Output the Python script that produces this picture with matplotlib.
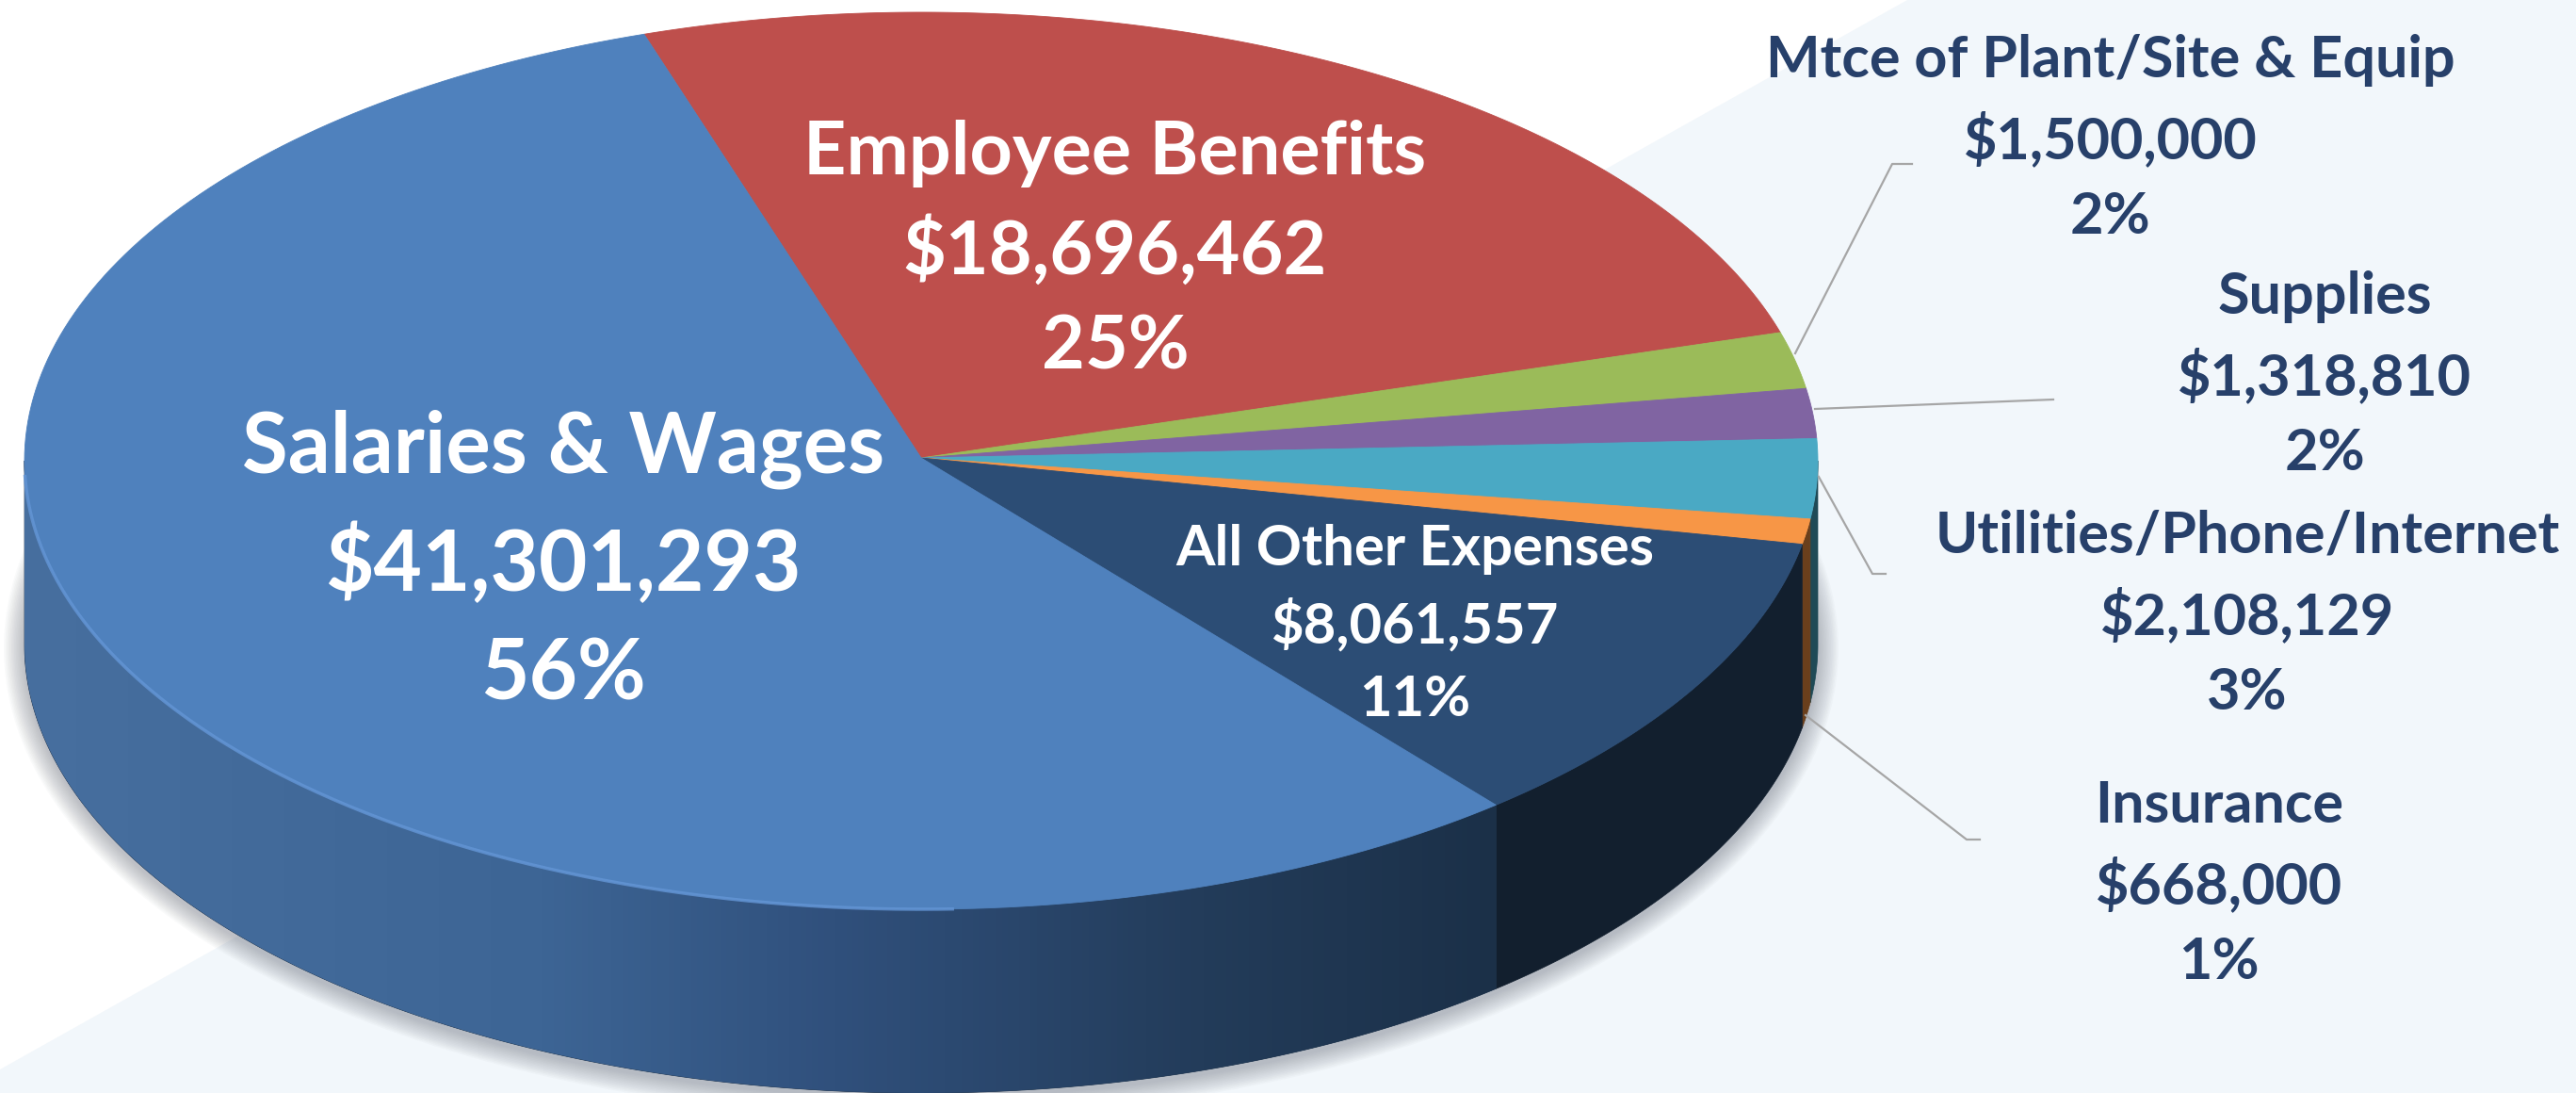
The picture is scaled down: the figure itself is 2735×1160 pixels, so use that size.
import matplotlib
matplotlib.use("Agg")
import matplotlib.pyplot as plt
import numpy as np
from matplotlib.patches import Polygon

plt.rcParams["font.family"] = ["Lato", "DejaVu Sans"]

# clockwise from the top, same order as the picture
categories = [
    "Employee Benefits",
    "Mtce of Plant/Site & Equip",
    "Supplies",
    "Utilities/Phone/Internet",
    "Insurance",
    "All Other Expenses",
    "Salaries & Wages",
]
amounts = [18696462, 1500000, 1318810, 2108129, 668000, 8061557, 41301293]
amount_labels = ["$18,696,462", "$1,500,000", "$1,318,810", "$2,108,129", "$668,000", "$8,061,557", "$41,301,293"]
pct_labels = ["25%", "2%", "2%", "3%", "1%", "11%", "56%"]
face_colors = ["#be4f4c", "#9bbb59", "#8064a2", "#4aa9c4", "#f79646", "#2c4d75", "#4f81bd"]
side_colors = ["#5e2625", "#4e5e2c", "#403251", "#1f4a56", "#6a3f1c", "#121f2e", "#1b3048"]

label_x = [1184, 2241, 2468, 2386, 2356, 1502, 598]
label_y = [266, 147, 398, 652, 938, 663, 596]
label_size = [57, 44, 44, 44, 44, 43, 64]
label_spacing = [1.49, 1.53, 1.53, 1.53, 1.53, 1.52, 1.49]
label_color = ["white", "#27406a", "#27406a", "#27406a", "#27406a", "white", "white"]

# leader lines, index into categories -> points
leaders = {
    1: [(1906, 375), (2009, 174), (2030, 174)],
    2: [(1927, 434), (2180, 424)],
    3: [(1931, 506), (1988, 609), (2002, 609)],
    4: [(1917, 759), (2088, 891), (2102, 891)],
}

cx, cy = 978, 489
a, b = 952, 476
depth = 195
start_angle = 108

fig = plt.figure(figsize=(27.35, 11.6), dpi=100)
ax = fig.add_axes([0, 0, 1, 1])
ax.axis("off")

# pale band behind everything
ax.add_patch(Polygon([(2025, 0), (2735, 0), (2735, 1160), (0, 1160), (0, 1135)],
                     facecolor="#f2f7fb", edgecolor="none", zorder=0))


def ring(t1, t2, dy=0.0, grow=0.0, n=200):
    t = np.radians(np.linspace(t1, t2, n))
    return np.column_stack([cx + (a + grow) * np.cos(t), cy + dy - (b + grow) * np.sin(t)])


# soft shadow under the disc
for i in range(14):
    ax.add_patch(Polygon(ring(0, 360, depth + 4, 22 - i * 1.6, 360), facecolor="#5a6070",
                         alpha=0.03, edgecolor="none", zorder=1))

fractions = np.array(amounts) / sum(amounts)
edges = start_angle - np.concatenate([[0], np.cumsum(fractions)]) * 360

# side wall, only the part that faces the viewer
for i, color in enumerate(side_colors):
    t1, t2 = edges[i + 1], edges[i]
    # lower half in this angle convention is -180..0
    lo = max(t1, -180)
    hi = min(t2, 0)
    if lo >= hi:
        continue
    pts = np.vstack([ring(lo, hi), ring(hi, lo, depth)])
    patch = Polygon(pts, facecolor=color, edgecolor=color, lw=0.5, zorder=2)
    ax.add_patch(patch)
    if categories[i] == "Salaries & Wages":
        grad = np.linspace(0, 1, 512)[None, :]
        cmap = matplotlib.colors.LinearSegmentedColormap.from_list(
            "wall", [(0, "#476f9f"), (0.35, "#3d6595"), (0.55, "#30507c"), (0.8, "#233c5a"), (1, "#1b3048")])
        im = ax.imshow(grad, extent=(cx - a, pts[:, 0].max(), cy + b + depth, cy), cmap=cmap,
                       aspect="auto", zorder=2.1)
        im.set_clip_path(patch)

# top face
for i, color in enumerate(face_colors):
    pts = np.vstack([[(cx, cy - 3)], ring(edges[i], edges[i + 1])])
    ax.add_patch(Polygon(pts, facecolor=color, edgecolor=color, lw=0.6, zorder=3))

# light rim along the lower left of the face
rim = ring(-178, -88)
ax.plot(rim[:, 0], rim[:, 1], color="#6496d6", lw=2.5, alpha=0.8, zorder=4)

for pts in leaders.values():
    xs, ys = zip(*pts)
    ax.plot(xs, ys, color="#a6a6a6", lw=1.6, zorder=5)

for i, name in enumerate(categories):
    ax.text(label_x[i], label_y[i], name + "\n" + amount_labels[i] + "\n" + pct_labels[i],
            ha="center", va="center", multialignment="center", fontsize=label_size[i],
            fontweight="bold", color=label_color[i], linespacing=label_spacing[i], zorder=6)

ax.set_xlim(0, 2735)
ax.set_ylim(1160, 0)
fig.savefig("out.png", dpi=100)
